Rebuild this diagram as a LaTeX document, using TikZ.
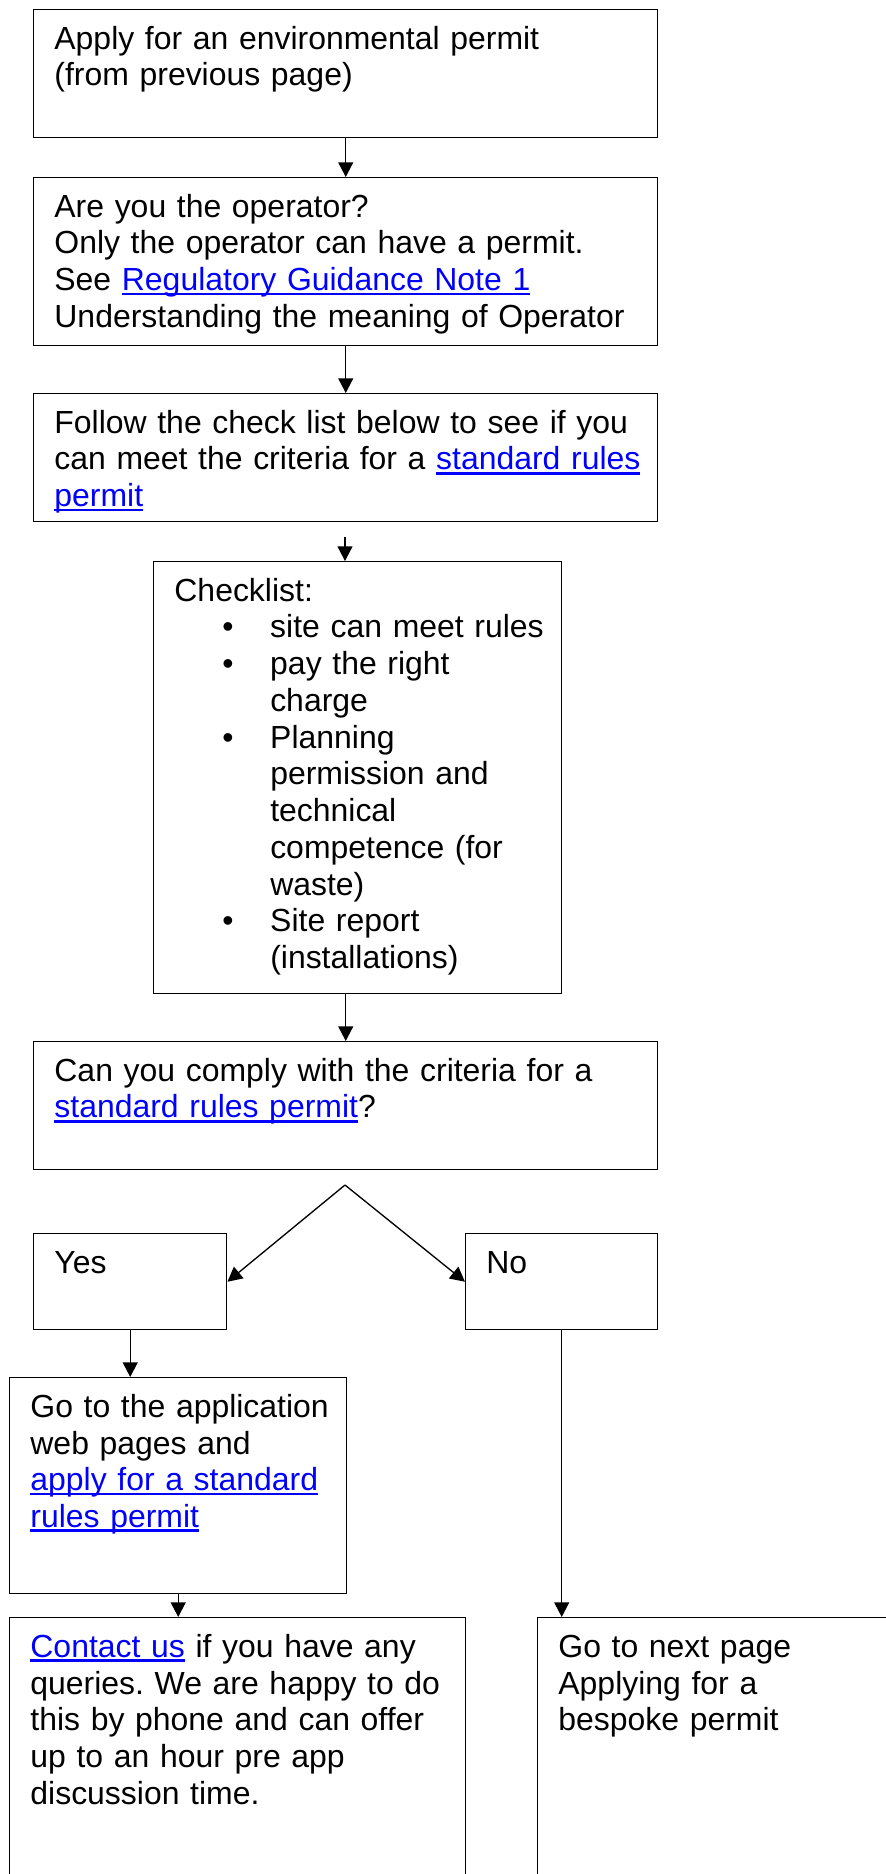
\documentclass[tikz,border=0pt]{standalone}
\usepackage{fontspec}
\setmainfont{Liberation Sans}
\usetikzlibrary{arrows.meta,positioning}
\definecolor{linkblue}{RGB}{0,0,255}
\frenchspacing
\newcommand{\weblink}[1]{\textcolor{linkblue}{\setbox0\hbox{#1}\rlap{\rule[-1.7pt]{\wd0}{0.95pt}}\box0}}
\newcommand{\itm}{\hspace*{18pt}\makebox[18pt][l]{\textbullet}}
\newcommand{\ind}{\hspace*{36pt}}

\begin{document}
\begin{tikzpicture}[x=0.3756pt,y=-0.3756pt,
    flowbox/.style={draw,line width=0.55pt,anchor=north west,align=left,
      inner xsep=7.77pt,inner ysep=0pt,text height=14.84pt,
      font=\fontsize{12pt}{13.8pt}\selectfont\frenchspacing},
    flow/.style={line width=0.5pt,-{Triangle[length=5.5pt,width=5.6pt]}}]
        \useasboundingbox (0,0) rectangle (886,1874);
        \clip (0,0) rectangle (886,1874);
        \node (apply) at (33,9) [flowbox,text width=218.83pt,text depth=33.24pt] {Apply for an environmental permit\\(from previous page)};
        \node (operator) at (33,177) [flowbox,text width=218.83pt,text depth=48.26pt] {Are you the operator?\\Only the operator can have a permit.\\See \weblink{Regulatory Guidance Note 1}\\Understanding the meaning of Operator};
        \node (follow) at (33,393) [flowbox,text width=218.83pt,text depth=33.24pt] {Follow the check list below to see if you\\\mbox{can meet the criteria for a \weblink{standard rules}}\\\weblink{permit}};
        \node (check) at (153,561) [flowbox,text width=137.7pt,text depth=147.42pt] {Checklist:\\\mbox{\itm site can meet rules}\\\itm pay the right\\\ind charge\\\itm Planning\\\ind permission and\\\ind technical\\\ind competence (for\\\ind waste)\\\itm Site report\\\ind (installations)};
        \node (comply) at (33,1041) [flowbox,text width=218.83pt,text depth=33.24pt] {Can you comply with the criteria for a\\\weblink{standard rules permit}?};
        \node (yes) at (33,1233) [flowbox,text width=56.94pt,text depth=21.22pt] {Yes};
        \node (no) at (465,1233) [flowbox,text width=56.56pt,text depth=21.22pt] {No};
        \node (goapp) at (9,1377) [flowbox,text width=111.03pt,text depth=66.29pt] {\mbox{Go to the application}\\web pages and\\\weblink{apply for a standard}\\\weblink{rules permit}};
        \node (contact) at (9,1617) [flowbox,text width=155.72pt,text depth=94.09pt] {\weblink{Contact us} if you have any\\\mbox{queries. We are happy to do}\\this by phone and can offer\\up to an hour pre app\\discussion time.};
        \node (nextpage) at (537,1617) [flowbox,text width=127.18pt,text depth=94.09pt] {Go to next page\\Applying for a\\bespoke permit};
        \coordinate (gap) at (345,537);
        \coordinate (fork) at (345,1185);
        \draw [flow] (apply) -- (operator);
        \draw [flow] (operator) -- (follow);
        \draw [flow] (gap) -- (gap |- check.north);
        \draw [flow] (check.south -| comply) -- (comply);
        \draw [flow] (fork) -- (yes.east);
        \draw [flow] (fork) -- (no.west);
        \draw [flow] (yes) -- (yes |- goapp.north);
        \draw [flow] (goapp) -- (goapp |- contact.north);
        \draw [flow] (no) -- (no |- nextpage.north);
      \end{tikzpicture}
\end{document}
